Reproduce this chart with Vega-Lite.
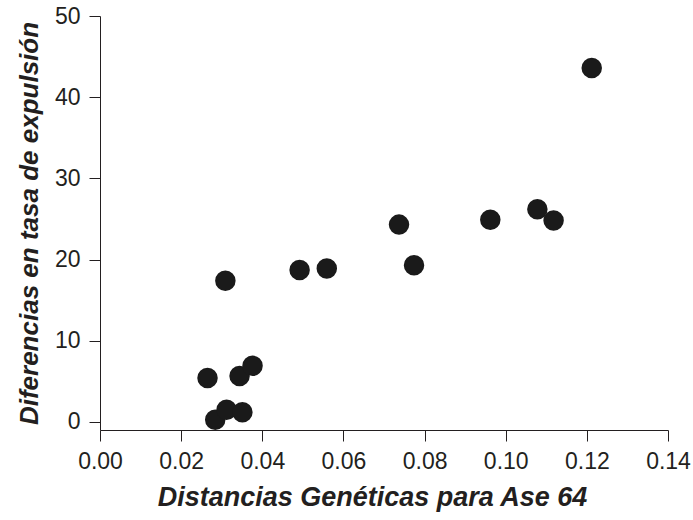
{
  "$schema": "https://vega.github.io/schema/vega-lite/v6.json",
  "width": 568,
  "height": 414,
  "autosize": "none",
  "padding": {"left": 100, "top": 16, "right": 25, "bottom": 90},
  "background": "white",
  "config": {"view": {"stroke": null}},
  "data": {"values": [
    {"d": 0.1212, "t": 43.6},
    {"d": 0.1078, "t": 26.2},
    {"d": 0.1118, "t": 24.8},
    {"d": 0.0962, "t": 24.9},
    {"d": 0.0737, "t": 24.3},
    {"d": 0.0774, "t": 19.3},
    {"d": 0.0559, "t": 18.9},
    {"d": 0.0492, "t": 18.7},
    {"d": 0.0309, "t": 17.4},
    {"d": 0.0265, "t": 5.4},
    {"d": 0.0344, "t": 5.65},
    {"d": 0.0376, "t": 6.9},
    {"d": 0.0284, "t": 0.25},
    {"d": 0.0312, "t": 1.5},
    {"d": 0.0351, "t": 1.2}
  ]},
  "mark": {"type": "circle", "size": 420, "color": "#1a1a1a", "opacity": 1},
  "encoding": {
    "x": {
      "field": "d", "type": "quantitative",
      "scale": {"domain": [0, 0.14], "nice": false, "zero": false},
      "axis": {
        "values": [0, 0.02, 0.04, 0.06, 0.08, 0.1, 0.12, 0.14],
        "format": ".2f", "grid": false, "tickSize": 11, "labelPadding": 9,
        "labelFlush": false, "labelOverlap": false,
        "domainColor": "#231f20", "tickColor": "#231f20", "labelColor": "#231f20",
        "labelFont": "Liberation Sans", "labelFontSize": 23,
        "title": "Distancias Genéticas para Ase 64",
        "titleFont": "Liberation Sans", "titleFontSize": 27, "titleFontWeight": "bold",
        "titleFontStyle": "italic", "titleColor": "#231f20", "titlePadding": 11,
        "titleX": 272
      }
    },
    "y": {
      "field": "t", "type": "quantitative",
      "scale": {"domain": [-1, 50], "nice": false, "zero": false},
      "axis": {
        "values": [0, 10, 20, 30, 40, 50],
        "grid": false, "tickSize": 11, "labelPadding": 9, "labelOverlap": false,
        "domainColor": "#231f20", "tickColor": "#231f20", "labelColor": "#231f20",
        "labelFont": "Liberation Sans", "labelFontSize": 23,
        "title": "Diferencias en tasa de expulsión",
        "titleFont": "Liberation Sans", "titleFontSize": 26, "titleFontWeight": "bold",
        "titleFontStyle": "italic", "titleColor": "#231f20", "titlePadding": 12
      }
    }
  }
}
